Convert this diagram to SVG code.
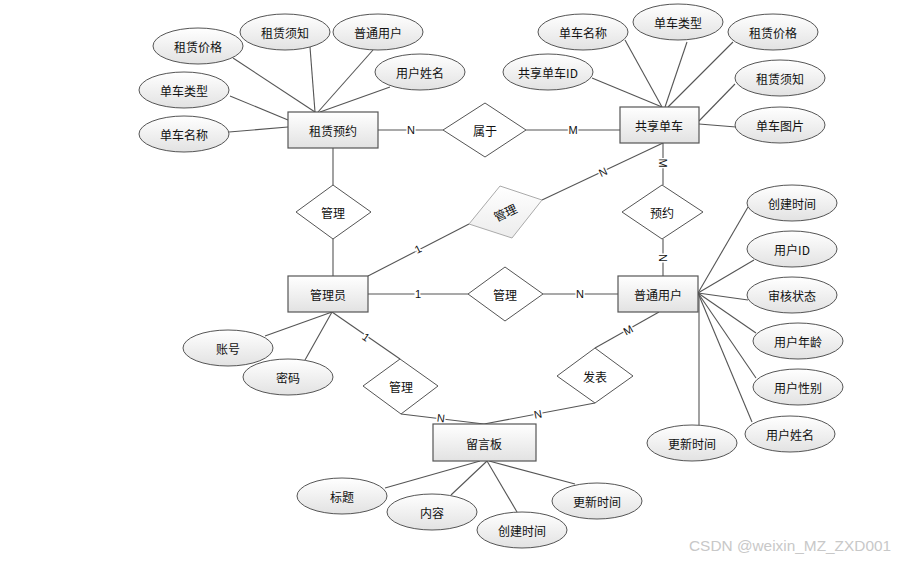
<svg xmlns="http://www.w3.org/2000/svg" width="898" height="561" viewBox="0 0 898 561">
<defs>
<linearGradient id="g" x1="0" y1="0" x2="0" y2="1">
<stop offset="0" stop-color="#ffffff"/>
<stop offset="1" stop-color="#e2e2e2"/>
</linearGradient>
<linearGradient id="g2" x1="0" y1="0" x2="0" y2="1">
<stop offset="0" stop-color="#ffffff"/>
<stop offset="1" stop-color="#ececec"/>
</linearGradient>
<style>
.ent{fill:url(#g);stroke:#555;stroke-width:1.2}
.att{fill:url(#g);stroke:#555;stroke-width:1}
.rel{fill:#fff;stroke:#555;stroke-width:1}
.t{font-family:"Noto Sans CJK SC","Liberation Sans",sans-serif;font-size:12px;fill:#111;text-anchor:middle;dominant-baseline:central}
.c line{stroke:#555;stroke-width:1.1}
.lb{font-family:"Liberation Sans",sans-serif;font-size:11px;fill:#111;text-anchor:middle;dominant-baseline:central;stroke:#fff;stroke-width:3;paint-order:stroke}
.wm{font-family:"Liberation Sans",Arial,sans-serif;font-size:15.4px;fill:#c8c8c8}
</style>
</defs>
<rect width="898" height="561" fill="#fff"/>
<g id="connectors" class="c">
<line x1="233" y1="58" x2="315" y2="112"/>
<line x1="310" y1="47" x2="315" y2="112"/>
<line x1="373" y1="50" x2="318" y2="112"/>
<line x1="390" y1="87" x2="320" y2="112"/>
<line x1="230" y1="96" x2="288" y2="120"/>
<line x1="229" y1="132" x2="288" y2="127"/>
<line x1="625" y1="40" x2="662" y2="107"/>
<line x1="687" y1="42" x2="665" y2="107"/>
<line x1="733" y1="42" x2="668" y2="107"/>
<line x1="592" y1="78" x2="662" y2="107"/>
<line x1="735" y1="84" x2="699" y2="121"/>
<line x1="699" y1="124" x2="736" y2="127"/>
<line x1="378" y1="130" x2="443" y2="130"/>
<line x1="526" y1="130" x2="620" y2="130"/>
<line x1="333" y1="148" x2="333" y2="185"/>
<line x1="333" y1="239" x2="333" y2="276"/>
<line x1="663" y1="143" x2="542" y2="200"/>
<line x1="663" y1="143" x2="663" y2="185"/>
<line x1="663" y1="239" x2="663" y2="276"/>
<line x1="368" y1="276" x2="469" y2="224"/>
<line x1="368" y1="294" x2="468" y2="294"/>
<line x1="543" y1="294" x2="618" y2="294"/>
<line x1="332" y1="312" x2="400" y2="359"/>
<line x1="401" y1="414" x2="484" y2="424"/>
<line x1="659" y1="312" x2="595" y2="348"/>
<line x1="595" y1="403" x2="484" y2="424"/>
<line x1="332" y1="312" x2="265" y2="336"/>
<line x1="332" y1="312" x2="305" y2="360"/>
<line x1="698" y1="293" x2="748" y2="207"/>
<line x1="698" y1="293" x2="754" y2="260"/>
<line x1="698" y1="293" x2="748" y2="300"/>
<line x1="698" y1="293" x2="756" y2="333"/>
<line x1="698" y1="293" x2="756" y2="378"/>
<line x1="698" y1="293" x2="752" y2="422"/>
<line x1="699" y1="293" x2="699" y2="425"/>
<line x1="480" y1="461" x2="385" y2="488"/>
<line x1="487" y1="461" x2="451" y2="495"/>
<line x1="487" y1="461" x2="517" y2="512"/>
<line x1="489" y1="461" x2="575" y2="484"/>
<text class="lb" x="411" y="130">N</text>
<text class="lb" x="573" y="130">M</text>
<text class="lb" x="603" y="172" transform="rotate(-25 603 172)">N</text>
<text class="lb" x="663" y="163" transform="rotate(90 663 163)">M</text>
<text class="lb" x="663" y="258" transform="rotate(90 663 258)">N</text>
<text class="lb" x="418" y="249" transform="rotate(-27 418 249)">1</text>
<text class="lb" x="418" y="294">1</text>
<text class="lb" x="580" y="294">N</text>
<text class="lb" x="366" y="337" transform="rotate(35 366 337)">1</text>
<text class="lb" x="441" y="418" transform="rotate(7 441 418)">N</text>
<text class="lb" x="628" y="330" transform="rotate(-29 628 330)">M</text>
<text class="lb" x="538" y="414" transform="rotate(-11 538 414)">N</text>
</g>
<g id="e-zulin"><rect class="ent" x="288" y="112" width="90" height="36"/><text class="t" x="333" y="130">租赁预约</text></g>
<g id="e-danche"><rect class="ent" x="620" y="107" width="79" height="36"/><text class="t" x="659" y="125">共享单车</text></g>
<g id="e-admin"><rect class="ent" x="288" y="276" width="80" height="36"/><text class="t" x="328" y="294">管理员</text></g>
<g id="e-user"><rect class="ent" x="618" y="276" width="80" height="36"/><text class="t" x="658" y="294">普通用户</text></g>
<g id="e-board"><rect class="ent" x="433" y="424" width="103" height="37"/><text class="t" x="484" y="443">留言板</text></g>
<g id="r-shuyu"><polygon class="rel" points="485,103 526,130 485,157 443,130"/><text class="t" x="485" y="130">属于</text></g>
<g id="r-guanli1"><polygon class="rel" points="333,185 371,212 333,239 296,212"/><text class="t" x="333" y="212">管理</text></g>
<g id="r-guanli2"><polygon points="500,186 542,200 512,238 469,224" fill="url(#g2)" stroke="#aaa" stroke-width="1"/><text class="t" x="505" y="212" transform="rotate(-25 505 212)">管理</text></g>
<g id="r-yuyue"><polygon class="rel" points="662,185 703,212 662,239 622,212"/><text class="t" x="662" y="212">预约</text></g>
<g id="r-guanli3"><polygon class="rel" points="505,267 543,294 505,321 468,294"/><text class="t" x="505" y="294">管理</text></g>
<g id="r-guanli4"><polygon class="rel" points="400,359 438,386 401,414 363,386"/><text class="t" x="401" y="386">管理</text></g>
<g id="r-fabiao"><polygon class="rel" points="595,348 633,376 595,403 557,376"/><text class="t" x="595" y="376">发表</text></g>
<g id="a-zl-price"><ellipse class="att" cx="198" cy="46" rx="45" ry="18"/><text class="t" x="198" y="46">租赁价格</text></g>
<g id="a-zl-notice"><ellipse class="att" cx="285" cy="32" rx="45" ry="18"/><text class="t" x="285" y="32">租赁须知</text></g>
<g id="a-zl-user"><ellipse class="att" cx="378" cy="32" rx="45" ry="18"/><text class="t" x="378" y="32">普通用户</text></g>
<g id="a-zl-uname"><ellipse class="att" cx="420" cy="72" rx="45" ry="18"/><text class="t" x="420" y="72">用户姓名</text></g>
<g id="a-zl-type"><ellipse class="att" cx="184" cy="90" rx="45" ry="18"/><text class="t" x="184" y="90">单车类型</text></g>
<g id="a-zl-name"><ellipse class="att" cx="184" cy="134" rx="45" ry="18"/><text class="t" x="184" y="134">单车名称</text></g>
<g id="a-dc-name"><ellipse class="att" cx="583" cy="32" rx="45" ry="18"/><text class="t" x="583" y="32">单车名称</text></g>
<g id="a-dc-type"><ellipse class="att" cx="678" cy="22" rx="45" ry="18"/><text class="t" x="678" y="22">单车类型</text></g>
<g id="a-dc-price"><ellipse class="att" cx="773" cy="32" rx="45" ry="18"/><text class="t" x="773" y="32">租赁价格</text></g>
<g id="a-dc-id"><ellipse class="att" cx="548" cy="72" rx="45" ry="18"/><text class="t" x="548" y="72">共享单车ID</text></g>
<g id="a-dc-notice"><ellipse class="att" cx="780" cy="78" rx="45" ry="18"/><text class="t" x="780" y="78">租赁须知</text></g>
<g id="a-dc-pic"><ellipse class="att" cx="780" cy="125" rx="45" ry="18"/><text class="t" x="780" y="125">单车图片</text></g>
<g id="a-ad-acc"><ellipse class="att" cx="228" cy="348" rx="45" ry="18"/><text class="t" x="228" y="348">账号</text></g>
<g id="a-ad-pwd"><ellipse class="att" cx="288" cy="377" rx="45" ry="18"/><text class="t" x="288" y="377">密码</text></g>
<g id="a-u-ctime"><ellipse class="att" cx="792" cy="203" rx="45" ry="18"/><text class="t" x="792" y="203">创建时间</text></g>
<g id="a-u-id"><ellipse class="att" cx="792" cy="249" rx="45" ry="18"/><text class="t" x="792" y="249">用户ID</text></g>
<g id="a-u-status"><ellipse class="att" cx="792" cy="295" rx="45" ry="18"/><text class="t" x="792" y="295">审核状态</text></g>
<g id="a-u-age"><ellipse class="att" cx="798" cy="341" rx="45" ry="18"/><text class="t" x="798" y="341">用户年龄</text></g>
<g id="a-u-sex"><ellipse class="att" cx="798" cy="387" rx="45" ry="18"/><text class="t" x="798" y="387">用户性别</text></g>
<g id="a-u-name"><ellipse class="att" cx="790" cy="434" rx="45" ry="18"/><text class="t" x="790" y="434">用户姓名</text></g>
<g id="a-u-utime"><ellipse class="att" cx="692" cy="443" rx="45" ry="18"/><text class="t" x="692" y="443">更新时间</text></g>
<g id="a-b-title"><ellipse class="att" cx="342" cy="496" rx="45" ry="18"/><text class="t" x="342" y="496">标题</text></g>
<g id="a-b-content"><ellipse class="att" cx="432" cy="512" rx="45" ry="18"/><text class="t" x="432" y="512">内容</text></g>
<g id="a-b-ctime"><ellipse class="att" cx="522" cy="530" rx="45" ry="18"/><text class="t" x="522" y="530">创建时间</text></g>
<g id="a-b-utime"><ellipse class="att" cx="597" cy="501" rx="45" ry="18"/><text class="t" x="597" y="501">更新时间</text></g>
<text class="wm" x="689" y="551">CSDN @weixin_MZ_ZXD001</text>
</svg>
